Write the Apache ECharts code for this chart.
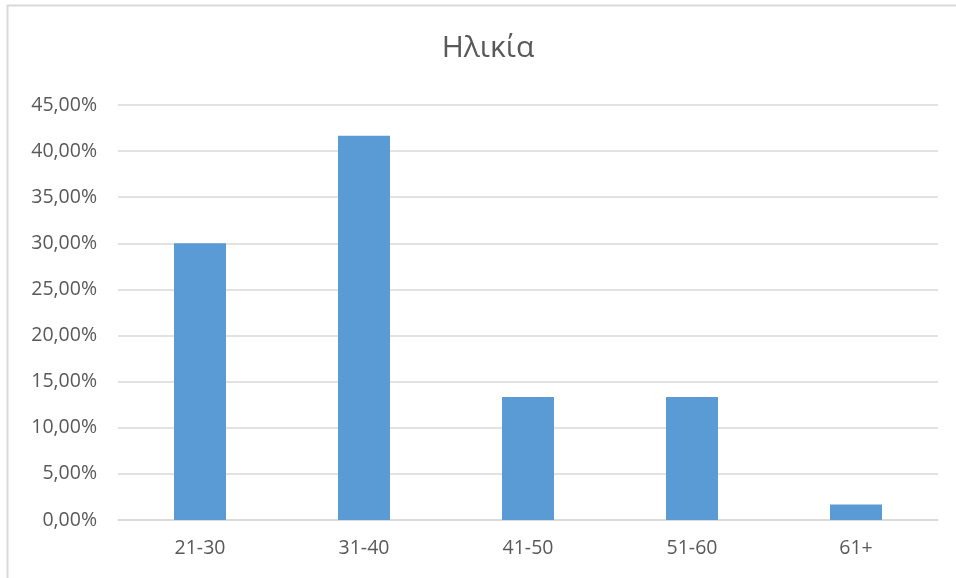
<!DOCTYPE html>
<html>
<head>
<meta charset="utf-8">
<script src="https://cdn.jsdelivr.net/npm/echarts@6/dist/echarts.min.js"></script>
<style>
html, body { margin: 0; padding: 0; background: #fff; }
#chart { width: 956px; height: 578px; }
</style>
</head>
<body>
<div id="chart"></div>
<script>
// Age groups and share of respondents (%)
const categories = ['21-30', '31-40', '41-50', '51-60', '61+'];
const shares = [30.0, 41.67, 13.33, 13.33, 1.67];
const chartTitle = 'Ηλικία';

const chart = echarts.init(document.getElementById('chart'), null, { renderer: 'canvas' });
const textColor = '#595959';
const fontFamily = '"Open Sans", "Noto Sans", sans-serif';

chart.setOption({
  animation: false,
  backgroundColor: '#ffffff',
  title: {
    text: chartTitle,
    left: 483,
    textAlign: 'center',
    top: 28,
    textStyle: { color: textColor, fontSize: 30, fontWeight: 'normal', fontFamily: fontFamily }
  },
  graphic: [{
    type: 'rect',
    shape: { x: 7.5, y: 5.5, width: 960, height: 600 },
    style: { fill: 'none', stroke: '#d9d9d9', lineWidth: 2 },
    silent: true
  }],
  grid: { left: 118, right: 18, top: 105, bottom: 58 },
  xAxis: {
    type: 'category',
    data: categories,
    axisLine: { lineStyle: { color: '#d9d9d9', width: 1.5 } },
    axisTick: { show: false },
    axisLabel: { color: textColor, fontSize: 19.5, fontFamily: fontFamily, margin: 18 }
  },
  yAxis: {
    type: 'value',
    min: 0,
    max: 45,
    interval: 5,
    axisLine: { show: false },
    axisTick: { show: false },
    splitLine: { lineStyle: { color: '#d9d9d9', width: 1.5 } },
    axisLabel: {
      color: textColor, fontSize: 19.5, fontFamily: fontFamily, margin: 21,
      formatter: v => v.toFixed(2).replace('.', ',') + '%'
    }
  },
  series: [{
    type: 'bar',
    data: shares,
    barWidth: 52,
    itemStyle: { color: '#5b9bd5' }
  }]
});
</script>
</body>
</html>
